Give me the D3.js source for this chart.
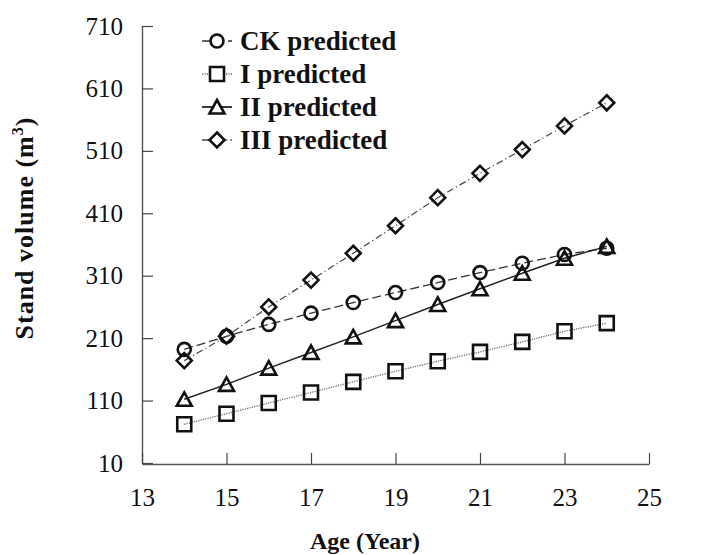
<!DOCTYPE html>
<html>
<head>
<meta charset="utf-8">
<script src="https://cdn.jsdelivr.net/npm/d3@7"></script>
<style>
  html, body { margin: 0; padding: 0; background: #fff; }
  svg { display: block; }
  text { font-family: "Liberation Serif", "Times New Roman", serif; fill: #111; }
</style>
</head>
<body>
<svg id="chart" width="718" height="555"></svg>
<script>
// Stand volume predictions by age for four treatments
const ages = [14, 15, 16, 17, 18, 19, 20, 21, 22, 23, 24];
const ckPredicted  = [192, 213, 232, 250, 267, 283, 299, 315, 330, 344, 354];
const iPredicted   = [72, 89, 106, 123, 140, 157, 173, 188, 204, 221, 234];
const iiPredicted  = [112, 136, 162, 187, 212, 238, 264, 289, 314, 338, 357];
const iiiPredicted = [174, 213, 260, 303, 346, 390, 435, 474, 512, 550, 587];
const seriesNames = ["CK predicted", "I predicted", "II predicted", "III predicted"];
const xTicks = [13, 15, 17, 19, 21, 23, 25];
const yTicks = [10, 110, 210, 310, 410, 510, 610, 710];

const svg = d3.select("#chart");

const x = d3.scaleLinear().domain([13, 25]).range([142, 649]);
const y = d3.scaleLinear().domain([10, 710]).range([463, 26]);

// marker shapes, drawn hollow
const shapes = {
  circle: "M6.5,0A6.5,6.5,0,1,1,-6.5,0A6.5,6.5,0,1,1,6.5,0Z",
  square: "M-7,-7H7V7H-7Z",
  triangle: "M0,-7L7.5,6.5L-7.5,6.5Z",
  diamond: "M0,-7.5L7.5,0L0,7.5L-7.5,0Z"
};

const series = [
  { name: seriesNames[0], values: ckPredicted,  shape: "circle",   dash: "9,4",        stroke: "#333", width: 1.3 },
  { name: seriesNames[1], values: iPredicted,   shape: "square",   dash: "1.2,1.2",    stroke: "#666", width: 1.3 },
  { name: seriesNames[2], values: iiPredicted,  shape: "triangle", dash: null,         stroke: "#222", width: 1.5 },
  { name: seriesNames[3], values: iiiPredicted, shape: "diamond",  dash: "7,3,1.2,3",  stroke: "#444", width: 1.2 }
];

// axes
const yAxis = d3.axisLeft(y).tickValues(yTicks).tickSizeInner(-11).tickSizeOuter(0).tickPadding(19);
const xAxis = d3.axisBottom(x).tickValues(xTicks).tickSizeInner(-11).tickSizeOuter(0).tickPadding(24);

const gy = svg.append("g").attr("transform", "translate(142,0)").call(yAxis);
const gx = svg.append("g").attr("transform", "translate(0,464)").call(xAxis);

[gx, gy].forEach(g => {
  g.select(".domain").attr("stroke", "#555").attr("stroke-width", 1.4);
  g.selectAll(".tick line").attr("stroke", "#444").attr("stroke-width", 1.2);
  g.selectAll(".tick text")
    .attr("font-family", "Liberation Serif, serif")
    .attr("font-size", 25)
    .attr("fill", "#111");
});

// axis titles
svg.append("text")
  .attr("x", 365).attr("y", 549)
  .attr("text-anchor", "middle")
  .attr("font-size", 24).attr("font-weight", "bold")
  .text("Age (Year)");

const yTitle = svg.append("text")
  .attr("transform", "translate(33,228) rotate(-90)")
  .attr("text-anchor", "middle")
  .attr("font-size", 26).attr("font-weight", "bold")
  .attr("letter-spacing", 1);
yTitle.append("tspan").text("Stand volume (m");
yTitle.append("tspan").attr("font-size", 16).attr("dy", -10).text("3");
yTitle.append("tspan").attr("dy", 10).text(")");

// lines
const line = d3.line().x((d, i) => x(ages[i])).y(d => y(d));

series.forEach(s => {
  svg.append("path")
    .datum(s.values)
    .attr("d", line)
    .attr("fill", "none")
    .attr("stroke", s.stroke)
    .attr("stroke-width", s.width)
    .attr("stroke-dasharray", s.dash);
});

// markers
series.forEach(s => {
  svg.append("g").selectAll("path")
    .data(s.values)
    .join("path")
    .attr("d", shapes[s.shape])
    .attr("transform", (d, i) => `translate(${x(ages[i])},${y(d)})`)
    .attr("fill", "none")
    .attr("stroke", "#111")
    .attr("stroke-width", 2.6);
});

// legend
const legend = svg.append("g");
const rowY = [41, 74, 107, 140];
series.forEach((s, i) => {
  const g = legend.append("g").attr("transform", `translate(0,${rowY[i]})`);
  g.append("line")
    .attr("x1", 202).attr("x2", 232).attr("y1", 0).attr("y2", 0)
    .attr("stroke", s.stroke).attr("stroke-width", s.width + 0.3)
    .attr("stroke-dasharray", s.dash);
  g.append("path")
    .attr("d", shapes[s.shape])
    .attr("transform", "translate(217,0)")
    .attr("fill", "#fff")
    .attr("stroke", "#111").attr("stroke-width", 2.6);
  g.append("text")
    .attr("x", 240).attr("y", 0).attr("dy", "0.35em")
    .attr("font-size", 27).attr("font-weight", "bold")
    .text(s.name);
});
</script>
</body>
</html>
